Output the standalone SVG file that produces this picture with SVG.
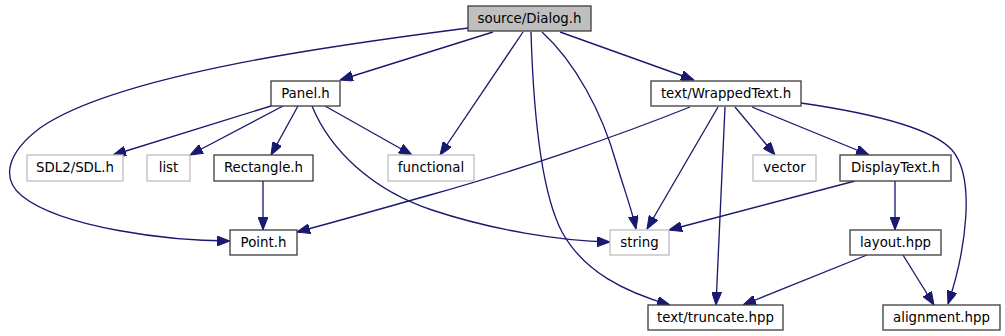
<svg xmlns="http://www.w3.org/2000/svg" width="1005" height="336" viewBox="0 0 1005 336">
  <style>
    .node rect { fill: #ffffff; stroke: #404040; stroke-width: 1.33; }
    .node.ext rect { stroke: #bfbfbf; }
    .node.root rect { fill: #bfbfbf; }
    .node text { font-family: "DejaVu Sans", "Liberation Sans", sans-serif; font-size: 13.33px; fill: #000000; text-anchor: middle; }
    .edges path { fill: none; stroke: #191970; stroke-width: 1.33; marker-end: url(#arrow); }
  </style>
  <defs>
    <marker id="arrow" viewBox="0 0 13 10" refX="13" refY="5" markerWidth="13" markerHeight="10" markerUnits="userSpaceOnUse" orient="auto">
      <path d="M0,0 L13,5 L0,10 z" fill="#191970" stroke="#191970" stroke-width="1"/>
    </marker>
  </defs>
  <rect width="1005" height="336" fill="#ffffff"/>

  <g class="edges">
    <!-- source/Dialog.h -->
    <path d="M493,32 L340,80"/>
    <path d="M468,28 C 360,42 120,72 40,128 C 8,152 0,178 22,196 C 62,228 170,241 230,241"/>
    <path d="M523,32 L440,155"/>
    <path d="M531,32 C 533,100 540,190 562,232 C 584,272 625,292 670,305"/>
    <path d="M542,32 C 575,62 602,112 616,162 C 625,192 632,210 636,229"/>
    <path d="M560,32 L694,80"/>
    <!-- Panel.h -->
    <path d="M271,106 L113,155"/>
    <path d="M283,106 L190,155"/>
    <path d="M298,106 L271,155"/>
    <path d="M312,106 C 330,150 372,190 432,210 C 492,230 560,241 610,242"/>
    <path d="M325,106 L412,155"/>
    <!-- text/WrappedText.h -->
    <path d="M690,107 C 620,135 520,170 430,195 C 380,209 335,222 297,232"/>
    <path d="M718,107 L647,229"/>
    <path d="M725,107 L716,305"/>
    <path d="M735,107 L775,155"/>
    <path d="M752,107 L869,155"/>
    <path d="M801,103 C 870,113 932,128 952,150 C 976,178 966,250 948,304"/>
    <!-- DisplayText.h -->
    <path d="M855,181 L669,230"/>
    <path d="M895,181 L895,230"/>
    <!-- layout.hpp -->
    <path d="M867,255 L743,305"/>
    <path d="M903,255 L934,305"/>
    <!-- Rectangle.h -->
    <path d="M263,181 L263,230"/>
  </g>

  <g id="node-dialog" class="node root">
    <rect x="468" y="6" width="123" height="25"/>
    <text x="529.5" y="23">source/Dialog.h</text>
  </g>
  <g id="node-panel" class="node">
    <rect x="271" y="81" width="69" height="25"/>
    <text x="305.5" y="98">Panel.h</text>
  </g>
  <g id="node-wrappedtext" class="node">
    <rect x="651" y="81" width="150" height="25"/>
    <text x="726" y="98">text/WrappedText.h</text>
  </g>
  <g id="node-sdl" class="node ext">
    <rect x="27" y="155" width="96" height="26"/>
    <text x="75" y="172">SDL2/SDL.h</text>
  </g>
  <g id="node-list" class="node ext">
    <rect x="147" y="155" width="43" height="26"/>
    <text x="168.5" y="172">list</text>
  </g>
  <g id="node-rectangle" class="node">
    <rect x="214" y="155" width="99" height="26"/>
    <text x="263.5" y="172">Rectangle.h</text>
  </g>
  <g id="node-functional" class="node ext">
    <rect x="388" y="155" width="86" height="26"/>
    <text x="431" y="172">functional</text>
  </g>
  <g id="node-vector" class="node ext">
    <rect x="753" y="155" width="63" height="26"/>
    <text x="784.5" y="172">vector</text>
  </g>
  <g id="node-displaytext" class="node">
    <rect x="840" y="155" width="111" height="26"/>
    <text x="895.5" y="172">DisplayText.h</text>
  </g>
  <g id="node-point" class="node">
    <rect x="230" y="230" width="67" height="25"/>
    <text x="263.5" y="247">Point.h</text>
  </g>
  <g id="node-string" class="node ext">
    <rect x="610" y="230" width="59" height="25"/>
    <text x="639.5" y="247">string</text>
  </g>
  <g id="node-layout" class="node">
    <rect x="850" y="230" width="91" height="25"/>
    <text x="895.5" y="247">layout.hpp</text>
  </g>
  <g id="node-truncate" class="node">
    <rect x="648" y="305" width="135" height="25"/>
    <text x="715.5" y="322">text/truncate.hpp</text>
  </g>
  <g id="node-alignment" class="node">
    <rect x="883" y="305" width="117" height="25"/>
    <text x="941.5" y="322">alignment.hpp</text>
  </g>
</svg>
